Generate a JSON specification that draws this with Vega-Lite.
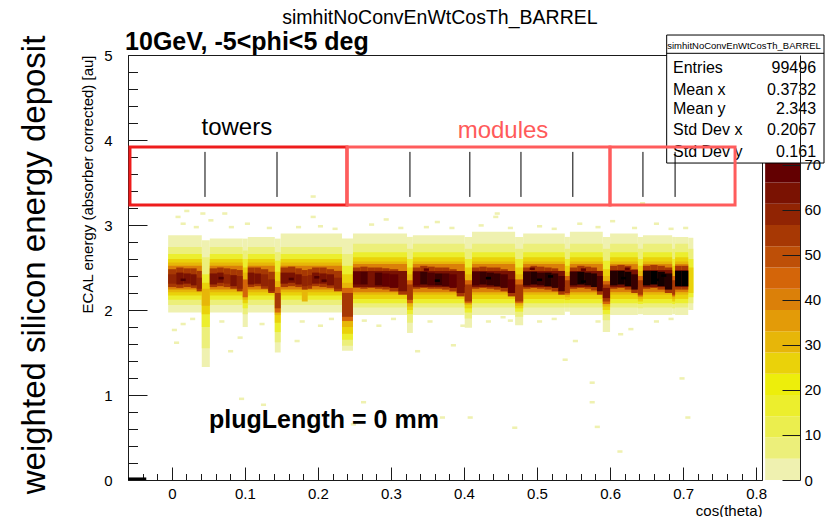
{
"$schema":"https://vega.github.io/schema/vega-lite/v6.json",
"width":634,"height":425,
"autosize":{"type":"none"},
"padding":{"left":128,"top":55,"right":64,"bottom":37},
"background":"#ffffff",
"config":{"font":"Liberation Sans","view":{"stroke":"#1a1a1a","strokeWidth":1},
 "axis":{"grid":false,"labelFont":"Liberation Sans","titleFont":"Liberation Sans","labelColor":"#000","titleColor":"#000","domainColor":"#1a1a1a","tickColor":"#1a1a1a","labelFontSize":15,"titleFontSize":15,"titleFontWeight":"normal"}},
"datasets":{
"cells":[
{"x":-0.005,"x2":0.041,"y":1.97,"y2":2.88,"v":3},{"x":-0.005,"x2":0.041,"y":2.06,"y2":2.74,"v":9},{"x":-0.005,"x2":0.041,"y":2.12,"y2":2.66,"v":17},{"x":-0.005,"x2":0.041,"y":2.17,"y2":2.6,"v":25},{"x":-0.005,"x2":0.041,"y":2.21,"y2":2.56,"v":33},{"x":-0.005,"x2":0.041,"y":2.24,"y2":2.52,"v":40},
{"x":0.052,"x2":0.097,"y":1.97,"y2":2.84,"v":3},{"x":0.052,"x2":0.097,"y":2.06,"y2":2.74,"v":9},{"x":0.052,"x2":0.097,"y":2.12,"y2":2.66,"v":17},{"x":0.052,"x2":0.097,"y":2.17,"y2":2.6,"v":25},{"x":0.052,"x2":0.097,"y":2.21,"y2":2.56,"v":33},{"x":0.052,"x2":0.097,"y":2.24,"y2":2.52,"v":40},
{"x":0.104,"x2":0.141,"y":1.97,"y2":2.86,"v":3},{"x":0.104,"x2":0.141,"y":2.06,"y2":2.74,"v":9},{"x":0.104,"x2":0.141,"y":2.12,"y2":2.66,"v":17},{"x":0.104,"x2":0.141,"y":2.17,"y2":2.6,"v":25},{"x":0.104,"x2":0.141,"y":2.21,"y2":2.56,"v":33},{"x":0.104,"x2":0.141,"y":2.24,"y2":2.52,"v":40},
{"x":0.149,"x2":0.233,"y":1.97,"y2":2.9,"v":3},{"x":0.149,"x2":0.233,"y":2.06,"y2":2.74,"v":9},{"x":0.149,"x2":0.233,"y":2.12,"y2":2.66,"v":17},{"x":0.149,"x2":0.233,"y":2.17,"y2":2.6,"v":25},{"x":0.149,"x2":0.233,"y":2.21,"y2":2.56,"v":33},{"x":0.149,"x2":0.233,"y":2.24,"y2":2.52,"v":40},
{"x":0.248,"x2":0.322,"y":1.94,"y2":2.9,"v":3},{"x":0.248,"x2":0.322,"y":2.03,"y2":2.78,"v":9},{"x":0.248,"x2":0.322,"y":2.08,"y2":2.68,"v":17},{"x":0.248,"x2":0.322,"y":2.13,"y2":2.62,"v":25},{"x":0.248,"x2":0.322,"y":2.18,"y2":2.57,"v":33},{"x":0.248,"x2":0.322,"y":2.21,"y2":2.54,"v":40},{"x":0.248,"x2":0.322,"y":2.27,"y2":2.46,"v":64},
{"x":0.33,"x2":0.401,"y":1.94,"y2":2.88,"v":3},{"x":0.33,"x2":0.401,"y":2.03,"y2":2.78,"v":9},{"x":0.33,"x2":0.401,"y":2.08,"y2":2.68,"v":17},{"x":0.33,"x2":0.401,"y":2.13,"y2":2.62,"v":25},{"x":0.33,"x2":0.401,"y":2.18,"y2":2.57,"v":33},{"x":0.33,"x2":0.401,"y":2.21,"y2":2.54,"v":40},{"x":0.33,"x2":0.401,"y":2.27,"y2":2.46,"v":64},
{"x":0.411,"x2":0.47,"y":1.94,"y2":2.92,"v":3},{"x":0.411,"x2":0.47,"y":2.03,"y2":2.78,"v":9},{"x":0.411,"x2":0.47,"y":2.08,"y2":2.68,"v":17},{"x":0.411,"x2":0.47,"y":2.13,"y2":2.62,"v":25},{"x":0.411,"x2":0.47,"y":2.18,"y2":2.57,"v":33},{"x":0.411,"x2":0.47,"y":2.21,"y2":2.54,"v":40},{"x":0.411,"x2":0.47,"y":2.27,"y2":2.46,"v":64},
{"x":0.481,"x2":0.538,"y":1.94,"y2":2.9,"v":3},{"x":0.481,"x2":0.538,"y":2.03,"y2":2.78,"v":9},{"x":0.481,"x2":0.538,"y":2.08,"y2":2.68,"v":17},{"x":0.481,"x2":0.538,"y":2.13,"y2":2.62,"v":25},{"x":0.481,"x2":0.538,"y":2.18,"y2":2.57,"v":33},{"x":0.481,"x2":0.538,"y":2.21,"y2":2.54,"v":40},{"x":0.481,"x2":0.538,"y":2.27,"y2":2.46,"v":64},
{"x":0.545,"x2":0.59,"y":1.94,"y2":2.92,"v":3},{"x":0.545,"x2":0.59,"y":2.03,"y2":2.78,"v":9},{"x":0.545,"x2":0.59,"y":2.08,"y2":2.68,"v":17},{"x":0.545,"x2":0.59,"y":2.13,"y2":2.62,"v":25},{"x":0.545,"x2":0.59,"y":2.18,"y2":2.57,"v":33},{"x":0.545,"x2":0.59,"y":2.21,"y2":2.54,"v":40},{"x":0.545,"x2":0.59,"y":2.27,"y2":2.46,"v":64},
{"x":0.6,"x2":0.638,"y":1.94,"y2":2.9,"v":3},{"x":0.6,"x2":0.638,"y":2.03,"y2":2.78,"v":9},{"x":0.6,"x2":0.638,"y":2.08,"y2":2.68,"v":17},{"x":0.6,"x2":0.638,"y":2.13,"y2":2.62,"v":25},{"x":0.6,"x2":0.638,"y":2.18,"y2":2.57,"v":33},{"x":0.6,"x2":0.638,"y":2.21,"y2":2.54,"v":40},{"x":0.6,"x2":0.638,"y":2.27,"y2":2.47,"v":64},
{"x":0.645,"x2":0.685,"y":1.94,"y2":2.88,"v":3},{"x":0.645,"x2":0.685,"y":2.03,"y2":2.78,"v":9},{"x":0.645,"x2":0.685,"y":2.08,"y2":2.68,"v":17},{"x":0.645,"x2":0.685,"y":2.13,"y2":2.62,"v":25},{"x":0.645,"x2":0.685,"y":2.18,"y2":2.57,"v":33},{"x":0.645,"x2":0.685,"y":2.21,"y2":2.54,"v":40},{"x":0.645,"x2":0.685,"y":2.27,"y2":2.47,"v":64},
{"x":0.689,"x2":0.707,"y":1.94,"y2":2.86,"v":3},{"x":0.689,"x2":0.707,"y":2.03,"y2":2.78,"v":9},{"x":0.689,"x2":0.707,"y":2.08,"y2":2.68,"v":17},{"x":0.689,"x2":0.707,"y":2.13,"y2":2.62,"v":25},{"x":0.689,"x2":0.707,"y":2.18,"y2":2.57,"v":33},{"x":0.689,"x2":0.707,"y":2.21,"y2":2.54,"v":40},{"x":0.689,"x2":0.707,"y":2.27,"y2":2.47,"v":64},
{"x":0.707,"x2":0.714,"y":2.0,"y2":2.85,"v":3},{"x":0.707,"x2":0.714,"y":2.08,"y2":2.72,"v":9},{"x":0.707,"x2":0.714,"y":2.15,"y2":2.6,"v":17},{"x":0.707,"x2":0.714,"y":2.2,"y2":2.5,"v":25},
{"x":0.041,"x2":0.052,"y":1.33,"y2":2.82,"v":3},{"x":0.041,"x2":0.052,"y":1.55,"y2":2.62,"v":9},{"x":0.041,"x2":0.052,"y":1.8,"y2":2.42,"v":17},{"x":0.041,"x2":0.052,"y":1.95,"y2":2.32,"v":25},{"x":0.041,"x2":0.052,"y":2.05,"y2":2.25,"v":33},
{"x":0.097,"x2":0.104,"y":1.8,"y2":2.84,"v":3},{"x":0.097,"x2":0.104,"y":1.95,"y2":2.7,"v":9},{"x":0.097,"x2":0.104,"y":2.02,"y2":2.6,"v":17},{"x":0.097,"x2":0.104,"y":2.08,"y2":2.5,"v":25},{"x":0.097,"x2":0.104,"y":2.12,"y2":2.44,"v":33},{"x":0.097,"x2":0.104,"y":2.15,"y2":2.36,"v":45},
{"x":0.141,"x2":0.149,"y":1.5,"y2":2.84,"v":3},{"x":0.141,"x2":0.149,"y":1.62,"y2":2.68,"v":9},{"x":0.141,"x2":0.149,"y":1.74,"y2":2.58,"v":17},{"x":0.141,"x2":0.149,"y":1.85,"y2":2.45,"v":25},{"x":0.141,"x2":0.149,"y":1.94,"y2":2.34,"v":33},{"x":0.141,"x2":0.149,"y":1.97,"y2":2.27,"v":45},{"x":0.141,"x2":0.149,"y":2.02,"y2":2.2,"v":52},
{"x":0.233,"x2":0.248,"y":1.52,"y2":2.84,"v":3},{"x":0.233,"x2":0.248,"y":1.58,"y2":2.66,"v":9},{"x":0.233,"x2":0.248,"y":1.65,"y2":2.52,"v":17},{"x":0.233,"x2":0.248,"y":1.72,"y2":2.42,"v":25},{"x":0.233,"x2":0.248,"y":1.8,"y2":2.32,"v":33},{"x":0.233,"x2":0.248,"y":1.87,"y2":2.26,"v":45},{"x":0.233,"x2":0.248,"y":1.92,"y2":2.2,"v":52},
{"x":0.322,"x2":0.33,"y":1.73,"y2":2.86,"v":3},{"x":0.322,"x2":0.33,"y":1.85,"y2":2.72,"v":9},{"x":0.322,"x2":0.33,"y":1.95,"y2":2.6,"v":17},{"x":0.322,"x2":0.33,"y":2.0,"y2":2.5,"v":25},{"x":0.322,"x2":0.33,"y":2.04,"y2":2.42,"v":33},{"x":0.322,"x2":0.33,"y":2.08,"y2":2.35,"v":45},{"x":0.322,"x2":0.33,"y":2.12,"y2":2.3,"v":52},
{"x":0.401,"x2":0.411,"y":1.79,"y2":2.86,"v":3},{"x":0.401,"x2":0.411,"y":1.9,"y2":2.72,"v":9},{"x":0.401,"x2":0.411,"y":1.97,"y2":2.6,"v":17},{"x":0.401,"x2":0.411,"y":2.02,"y2":2.5,"v":25},{"x":0.401,"x2":0.411,"y":2.06,"y2":2.42,"v":33},{"x":0.401,"x2":0.411,"y":2.08,"y2":2.35,"v":45},{"x":0.401,"x2":0.411,"y":2.1,"y2":2.3,"v":52},
{"x":0.47,"x2":0.481,"y":1.82,"y2":2.86,"v":3},{"x":0.47,"x2":0.481,"y":1.92,"y2":2.72,"v":9},{"x":0.47,"x2":0.481,"y":1.98,"y2":2.6,"v":17},{"x":0.47,"x2":0.481,"y":2.02,"y2":2.5,"v":25},{"x":0.47,"x2":0.481,"y":2.05,"y2":2.42,"v":33},{"x":0.47,"x2":0.481,"y":2.08,"y2":2.36,"v":45},{"x":0.47,"x2":0.481,"y":2.1,"y2":2.3,"v":52},
{"x":0.538,"x2":0.545,"y":1.98,"y2":2.86,"v":3},{"x":0.538,"x2":0.545,"y":2.03,"y2":2.72,"v":9},{"x":0.538,"x2":0.545,"y":2.08,"y2":2.6,"v":17},{"x":0.538,"x2":0.545,"y":2.12,"y2":2.52,"v":25},{"x":0.538,"x2":0.545,"y":2.15,"y2":2.45,"v":33},{"x":0.538,"x2":0.545,"y":2.18,"y2":2.4,"v":45},{"x":0.538,"x2":0.545,"y":2.2,"y2":2.35,"v":52},
{"x":0.59,"x2":0.6,"y":1.74,"y2":2.86,"v":3},{"x":0.59,"x2":0.6,"y":1.88,"y2":2.72,"v":9},{"x":0.59,"x2":0.6,"y":1.95,"y2":2.58,"v":17},{"x":0.59,"x2":0.6,"y":2.0,"y2":2.48,"v":25},{"x":0.59,"x2":0.6,"y":2.04,"y2":2.4,"v":33},{"x":0.59,"x2":0.6,"y":2.07,"y2":2.34,"v":45},{"x":0.59,"x2":0.6,"y":2.1,"y2":2.3,"v":52},{"x":0.59,"x2":0.6,"y":2.14,"y2":2.26,"v":64},
{"x":0.638,"x2":0.645,"y":1.95,"y2":2.86,"v":3},{"x":0.638,"x2":0.645,"y":2.02,"y2":2.72,"v":9},{"x":0.638,"x2":0.645,"y":2.07,"y2":2.6,"v":17},{"x":0.638,"x2":0.645,"y":2.1,"y2":2.52,"v":25},{"x":0.638,"x2":0.645,"y":2.13,"y2":2.46,"v":33},{"x":0.638,"x2":0.645,"y":2.16,"y2":2.4,"v":45},{"x":0.638,"x2":0.645,"y":2.18,"y2":2.35,"v":52},
{"x":0.685,"x2":0.689,"y":1.95,"y2":2.86,"v":3},{"x":0.685,"x2":0.689,"y":2.02,"y2":2.72,"v":9},{"x":0.685,"x2":0.689,"y":2.07,"y2":2.6,"v":17},{"x":0.685,"x2":0.689,"y":2.1,"y2":2.52,"v":25},{"x":0.685,"x2":0.689,"y":2.13,"y2":2.46,"v":33},{"x":0.685,"x2":0.689,"y":2.16,"y2":2.4,"v":45},{"x":0.685,"x2":0.689,"y":2.18,"y2":2.35,"v":52},
{"x":-0.005,"x2":0.006,"y":2.27,"y2":2.48,"v":52},{"x":-0.005,"x2":0.006,"y":2.31,"y2":2.42,"v":58},
{"x":0.006,"x2":0.016,"y":2.26,"y2":2.5,"v":52},{"x":0.006,"x2":0.016,"y":2.3,"y2":2.44,"v":66},
{"x":0.016,"x2":0.026,"y":2.27,"y2":2.49,"v":52},{"x":0.016,"x2":0.026,"y":2.31,"y2":2.43,"v":64},
{"x":0.026,"x2":0.034,"y":2.26,"y2":2.49,"v":52},{"x":0.026,"x2":0.034,"y":2.29,"y2":2.42,"v":62},
{"x":0.034,"x2":0.041,"y":2.22,"y2":2.46,"v":52},{"x":0.034,"x2":0.041,"y":2.25,"y2":2.38,"v":58},
{"x":0.052,"x2":0.062,"y":2.27,"y2":2.49,"v":52},{"x":0.052,"x2":0.062,"y":2.3,"y2":2.43,"v":62},
{"x":0.062,"x2":0.071,"y":2.28,"y2":2.5,"v":52},{"x":0.062,"x2":0.071,"y":2.32,"y2":2.44,"v":66},
{"x":0.071,"x2":0.08,"y":2.27,"y2":2.49,"v":52},{"x":0.071,"x2":0.08,"y":2.31,"y2":2.42,"v":60},
{"x":0.08,"x2":0.089,"y":2.25,"y2":2.48,"v":52},{"x":0.08,"x2":0.089,"y":2.28,"y2":2.41,"v":62},
{"x":0.089,"x2":0.097,"y":2.22,"y2":2.47,"v":52},{"x":0.089,"x2":0.097,"y":2.25,"y2":2.4,"v":58},
{"x":0.104,"x2":0.113,"y":2.27,"y2":2.5,"v":52},{"x":0.104,"x2":0.113,"y":2.3,"y2":2.44,"v":64},
{"x":0.113,"x2":0.122,"y":2.28,"y2":2.5,"v":52},{"x":0.113,"x2":0.122,"y":2.31,"y2":2.43,"v":62},
{"x":0.122,"x2":0.132,"y":2.25,"y2":2.48,"v":52},{"x":0.122,"x2":0.132,"y":2.28,"y2":2.42,"v":60},
{"x":0.132,"x2":0.141,"y":2.2,"y2":2.45,"v":52},{"x":0.132,"x2":0.141,"y":2.22,"y2":2.36,"v":58},
{"x":0.149,"x2":0.159,"y":2.27,"y2":2.5,"v":52},{"x":0.149,"x2":0.159,"y":2.31,"y2":2.44,"v":64},
{"x":0.159,"x2":0.169,"y":2.28,"y2":2.51,"v":52},{"x":0.159,"x2":0.169,"y":2.32,"y2":2.44,"v":66},
{"x":0.169,"x2":0.178,"y":2.27,"y2":2.49,"v":52},{"x":0.169,"x2":0.178,"y":2.3,"y2":2.42,"v":62},
{"x":0.178,"x2":0.186,"y":2.1,"y2":2.45,"v":33},{"x":0.178,"x2":0.186,"y":2.24,"y2":2.47,"v":52},{"x":0.178,"x2":0.186,"y":2.28,"y2":2.4,"v":58},
{"x":0.186,"x2":0.192,"y":2.25,"y2":2.48,"v":52},{"x":0.186,"x2":0.192,"y":2.29,"y2":2.41,"v":60},
{"x":0.192,"x2":0.202,"y":2.28,"y2":2.5,"v":52},{"x":0.192,"x2":0.202,"y":2.31,"y2":2.44,"v":66},
{"x":0.202,"x2":0.212,"y":2.27,"y2":2.5,"v":52},{"x":0.202,"x2":0.212,"y":2.31,"y2":2.43,"v":64},
{"x":0.212,"x2":0.222,"y":2.26,"y2":2.48,"v":52},{"x":0.212,"x2":0.222,"y":2.29,"y2":2.42,"v":62},
{"x":0.222,"x2":0.233,"y":2.22,"y2":2.46,"v":52},{"x":0.222,"x2":0.233,"y":2.25,"y2":2.38,"v":58},
{"x":0.248,"x2":0.258,"y":2.26,"y2":2.5,"v":52},{"x":0.248,"x2":0.258,"y":2.3,"y2":2.45,"v":68},
{"x":0.258,"x2":0.268,"y":2.25,"y2":2.51,"v":52},{"x":0.258,"x2":0.268,"y":2.3,"y2":2.45,"v":72},
{"x":0.268,"x2":0.278,"y":2.26,"y2":2.5,"v":52},{"x":0.268,"x2":0.278,"y":2.3,"y2":2.44,"v":66},
{"x":0.278,"x2":0.288,"y":2.25,"y2":2.5,"v":52},{"x":0.278,"x2":0.288,"y":2.29,"y2":2.44,"v":74},
{"x":0.288,"x2":0.298,"y":2.24,"y2":2.49,"v":52},{"x":0.288,"x2":0.298,"y":2.28,"y2":2.43,"v":70},
{"x":0.298,"x2":0.31,"y":2.22,"y2":2.48,"v":52},{"x":0.298,"x2":0.31,"y":2.26,"y2":2.42,"v":68},
{"x":0.31,"x2":0.322,"y":2.18,"y2":2.45,"v":52},{"x":0.31,"x2":0.322,"y":2.22,"y2":2.38,"v":64},
{"x":0.33,"x2":0.34,"y":2.25,"y2":2.5,"v":52},{"x":0.33,"x2":0.34,"y":2.29,"y2":2.45,"v":70},
{"x":0.34,"x2":0.35,"y":2.26,"y2":2.52,"v":52},{"x":0.34,"x2":0.35,"y":2.3,"y2":2.45,"v":76},
{"x":0.35,"x2":0.36,"y":2.25,"y2":2.51,"v":52},{"x":0.35,"x2":0.36,"y":2.29,"y2":2.44,"v":72},
{"x":0.36,"x2":0.37,"y":2.25,"y2":2.5,"v":52},{"x":0.36,"x2":0.37,"y":2.29,"y2":2.43,"v":78},
{"x":0.37,"x2":0.38,"y":2.24,"y2":2.5,"v":52},{"x":0.37,"x2":0.38,"y":2.28,"y2":2.43,"v":74},
{"x":0.38,"x2":0.39,"y":2.22,"y2":2.48,"v":52},{"x":0.38,"x2":0.39,"y":2.26,"y2":2.42,"v":70},
{"x":0.39,"x2":0.401,"y":2.16,"y2":2.45,"v":52},{"x":0.39,"x2":0.401,"y":2.2,"y2":2.37,"v":66},
{"x":0.411,"x2":0.421,"y":2.25,"y2":2.5,"v":52},{"x":0.411,"x2":0.421,"y":2.29,"y2":2.45,"v":74},
{"x":0.421,"x2":0.431,"y":2.26,"y2":2.51,"v":52},{"x":0.421,"x2":0.431,"y":2.3,"y2":2.45,"v":78},
{"x":0.431,"x2":0.441,"y":2.25,"y2":2.5,"v":52},{"x":0.431,"x2":0.441,"y":2.29,"y2":2.44,"v":80},
{"x":0.441,"x2":0.45,"y":2.24,"y2":2.5,"v":52},{"x":0.441,"x2":0.45,"y":2.28,"y2":2.43,"v":76},
{"x":0.45,"x2":0.46,"y":2.22,"y2":2.48,"v":52},{"x":0.45,"x2":0.46,"y":2.26,"y2":2.42,"v":72},
{"x":0.46,"x2":0.47,"y":2.16,"y2":2.44,"v":52},{"x":0.46,"x2":0.47,"y":2.2,"y2":2.36,"v":68},
{"x":0.481,"x2":0.491,"y":2.25,"y2":2.5,"v":52},{"x":0.481,"x2":0.491,"y":2.29,"y2":2.45,"v":76},
{"x":0.491,"x2":0.5,"y":2.26,"y2":2.52,"v":52},{"x":0.491,"x2":0.5,"y":2.3,"y2":2.45,"v":82},
{"x":0.5,"x2":0.51,"y":2.25,"y2":2.51,"v":52},{"x":0.5,"x2":0.51,"y":2.29,"y2":2.44,"v":78},
{"x":0.51,"x2":0.52,"y":2.24,"y2":2.5,"v":52},{"x":0.51,"x2":0.52,"y":2.28,"y2":2.44,"v":84},
{"x":0.52,"x2":0.529,"y":2.22,"y2":2.49,"v":52},{"x":0.52,"x2":0.529,"y":2.26,"y2":2.43,"v":78},
{"x":0.529,"x2":0.538,"y":2.18,"y2":2.46,"v":52},{"x":0.529,"x2":0.538,"y":2.22,"y2":2.4,"v":72},
{"x":0.545,"x2":0.555,"y":2.25,"y2":2.5,"v":52},{"x":0.545,"x2":0.555,"y":2.29,"y2":2.45,"v":80},
{"x":0.555,"x2":0.565,"y":2.26,"y2":2.52,"v":52},{"x":0.555,"x2":0.565,"y":2.3,"y2":2.45,"v":86},
{"x":0.565,"x2":0.574,"y":2.25,"y2":2.51,"v":52},{"x":0.565,"x2":0.574,"y":2.29,"y2":2.44,"v":82},
{"x":0.574,"x2":0.582,"y":2.23,"y2":2.5,"v":52},{"x":0.574,"x2":0.582,"y":2.27,"y2":2.43,"v":84},
{"x":0.582,"x2":0.59,"y":2.18,"y2":2.46,"v":52},{"x":0.582,"x2":0.59,"y":2.22,"y2":2.4,"v":74},
{"x":0.6,"x2":0.61,"y":2.25,"y2":2.52,"v":52},{"x":0.6,"x2":0.61,"y":2.29,"y2":2.46,"v":84},
{"x":0.61,"x2":0.62,"y":2.26,"y2":2.53,"v":52},{"x":0.61,"x2":0.62,"y":2.3,"y2":2.46,"v":88},
{"x":0.62,"x2":0.629,"y":2.24,"y2":2.52,"v":52},{"x":0.62,"x2":0.629,"y":2.28,"y2":2.45,"v":86},
{"x":0.629,"x2":0.638,"y":2.2,"y2":2.48,"v":52},{"x":0.629,"x2":0.638,"y":2.24,"y2":2.42,"v":80},
{"x":0.645,"x2":0.655,"y":2.25,"y2":2.52,"v":52},{"x":0.645,"x2":0.655,"y":2.29,"y2":2.46,"v":86},
{"x":0.655,"x2":0.665,"y":2.26,"y2":2.53,"v":52},{"x":0.655,"x2":0.665,"y":2.3,"y2":2.46,"v":90},
{"x":0.665,"x2":0.675,"y":2.24,"y2":2.52,"v":52},{"x":0.665,"x2":0.675,"y":2.28,"y2":2.45,"v":88},
{"x":0.675,"x2":0.685,"y":2.2,"y2":2.5,"v":52},{"x":0.675,"x2":0.685,"y":2.24,"y2":2.43,"v":84},
{"x":0.689,"x2":0.698,"y":2.24,"y2":2.52,"v":52},{"x":0.689,"x2":0.698,"y":2.28,"y2":2.46,"v":90},
{"x":0.698,"x2":0.707,"y":2.24,"y2":2.52,"v":52},{"x":0.698,"x2":0.707,"y":2.28,"y2":2.46,"v":94},
{"x":0.012,"x2":0.019,"y":2.34,"y2":2.37,"v":75},{"x":0.064,"x2":0.071,"y":2.36,"y2":2.39,"v":75},{"x":0.16,"x2":0.167,"y":2.35,"y2":2.38,"v":75},{"x":0.195,"x2":0.202,"y":2.37,"y2":2.4,"v":75},{"x":0.205,"x2":0.212,"y":2.33,"y2":2.36,"v":75},
{"x":0.36,"x2":0.367,"y":2.33,"y2":2.36,"v":94},{"x":0.43,"x2":0.437,"y":2.36,"y2":2.39,"v":94},{"x":0.5,"x2":0.507,"y":2.34,"y2":2.37,"v":94},{"x":0.515,"x2":0.522,"y":2.38,"y2":2.41,"v":94},{"x":0.56,"x2":0.567,"y":2.32,"y2":2.35,"v":94},{"x":0.615,"x2":0.622,"y":2.36,"y2":2.39,"v":94},{"x":0.66,"x2":0.667,"y":2.34,"y2":2.37,"v":94},{"x":0.67,"x2":0.677,"y":2.39,"y2":2.42,"v":94},
{"x":0.345,"x2":0.352,"y":2.46,"y2":2.49,"v":70},{"x":0.49,"x2":0.497,"y":2.47,"y2":2.5,"v":70},{"x":0.56,"x2":0.567,"y":2.46,"y2":2.49,"v":70},{"x":0.62,"x2":0.627,"y":2.47,"y2":2.5,"v":70},
{"x":-0.06,"x2":-0.035,"y":0,"y2":0.03,"v":94},
{"x":0.005,"x2":0.012,"y":3.08,"y2":3.11,"v":2},{"x":0.012,"x2":0.019,"y":3.0,"y2":3.03,"v":2},{"x":0.03,"x2":0.037,"y":2.96,"y2":2.99,"v":2},{"x":0.05,"x2":0.057,"y":3.04,"y2":3.07,"v":2},{"x":0.078,"x2":0.085,"y":2.96,"y2":2.99,"v":2},{"x":0.1,"x2":0.107,"y":3.0,"y2":3.03,"v":2},{"x":0.13,"x2":0.137,"y":2.95,"y2":2.98,"v":2},{"x":0.17,"x2":0.177,"y":2.96,"y2":2.99,"v":2},{"x":0.19,"x2":0.197,"y":3.08,"y2":3.11,"v":2},{"x":0.2,"x2":0.207,"y":2.97,"y2":3.0,"v":2},{"x":0.22,"x2":0.227,"y":2.94,"y2":2.97,"v":2},{"x":0.27,"x2":0.277,"y":2.99,"y2":3.02,"v":2},{"x":0.29,"x2":0.297,"y":3.05,"y2":3.08,"v":2},{"x":0.31,"x2":0.317,"y":2.95,"y2":2.98,"v":2},{"x":0.345,"x2":0.352,"y":2.96,"y2":2.99,"v":2},{"x":0.36,"x2":0.367,"y":3.02,"y2":3.05,"v":2},{"x":0.38,"x2":0.387,"y":2.95,"y2":2.98,"v":2},{"x":0.42,"x2":0.427,"y":2.98,"y2":3.01,"v":2},{"x":0.44,"x2":0.447,"y":3.08,"y2":3.11,"v":2},{"x":0.46,"x2":0.467,"y":2.95,"y2":2.98,"v":2},{"x":0.5,"x2":0.507,"y":2.97,"y2":3.0,"v":2},{"x":0.52,"x2":0.527,"y":2.94,"y2":2.97,"v":2},{"x":0.555,"x2":0.562,"y":3.0,"y2":3.03,"v":2},{"x":0.58,"x2":0.587,"y":2.96,"y2":2.99,"v":2},{"x":0.6,"x2":0.607,"y":3.03,"y2":3.06,"v":2},{"x":0.63,"x2":0.637,"y":2.95,"y2":2.98,"v":2},{"x":0.66,"x2":0.667,"y":3.0,"y2":3.03,"v":2},{"x":0.68,"x2":0.687,"y":2.94,"y2":2.97,"v":2},{"x":0.7,"x2":0.707,"y":2.95,"y2":2.98,"v":2},
{"x":0.19,"x2":0.197,"y":3.32,"y2":3.35,"v":2},{"x":0.442,"x2":0.449,"y":3.12,"y2":3.15,"v":2},{"x":0.641,"x2":0.648,"y":3.24,"y2":3.27,"v":2},{"x":0.017,"x2":0.024,"y":3.15,"y2":3.18,"v":2},{"x":0.039,"x2":0.046,"y":3.12,"y2":3.15,"v":2},{"x":0.069,"x2":0.076,"y":3.12,"y2":3.15,"v":2},
{"x":0.0,"x2":0.007,"y":1.75,"y2":1.78,"v":2},{"x":0.003,"x2":0.01,"y":1.6,"y2":1.63,"v":2},{"x":0.012,"x2":0.019,"y":1.82,"y2":1.85,"v":2},{"x":0.025,"x2":0.032,"y":1.88,"y2":1.91,"v":2},{"x":0.065,"x2":0.072,"y":1.85,"y2":1.88,"v":2},{"x":0.077,"x2":0.084,"y":1.5,"y2":1.53,"v":2},{"x":0.09,"x2":0.097,"y":1.66,"y2":1.69,"v":2},{"x":0.092,"x2":0.099,"y":0.94,"y2":0.97,"v":2},{"x":0.12,"x2":0.127,"y":1.82,"y2":1.85,"v":2},{"x":0.122,"x2":0.129,"y":0.87,"y2":0.9,"v":2},{"x":0.168,"x2":0.175,"y":1.62,"y2":1.65,"v":2},{"x":0.175,"x2":0.182,"y":1.85,"y2":1.88,"v":2},{"x":0.2,"x2":0.207,"y":1.8,"y2":1.83,"v":2},{"x":0.215,"x2":0.222,"y":1.88,"y2":1.91,"v":2},{"x":0.26,"x2":0.267,"y":1.86,"y2":1.89,"v":2},{"x":0.259,"x2":0.266,"y":0.9,"y2":0.93,"v":2},{"x":0.245,"x2":0.252,"y":0.64,"y2":0.67,"v":2},{"x":0.28,"x2":0.287,"y":1.8,"y2":1.83,"v":2},{"x":0.3,"x2":0.307,"y":1.88,"y2":1.91,"v":2},{"x":0.333,"x2":0.34,"y":1.5,"y2":1.53,"v":2},{"x":0.35,"x2":0.357,"y":1.85,"y2":1.88,"v":2},{"x":0.367,"x2":0.374,"y":0.72,"y2":0.75,"v":2},{"x":0.382,"x2":0.389,"y":1.57,"y2":1.6,"v":2},{"x":0.395,"x2":0.402,"y":1.8,"y2":1.83,"v":2},{"x":0.405,"x2":0.412,"y":0.72,"y2":0.75,"v":2},{"x":0.43,"x2":0.437,"y":1.85,"y2":1.88,"v":2},{"x":0.45,"x2":0.457,"y":1.9,"y2":1.93,"v":2},{"x":0.466,"x2":0.473,"y":0.6,"y2":0.63,"v":2},{"x":0.5,"x2":0.507,"y":1.85,"y2":1.88,"v":2},{"x":0.52,"x2":0.527,"y":1.88,"y2":1.91,"v":2},{"x":0.535,"x2":0.542,"y":1.4,"y2":1.43,"v":2},{"x":0.549,"x2":0.556,"y":1.62,"y2":1.65,"v":2},{"x":0.572,"x2":0.579,"y":1.13,"y2":1.16,"v":2},{"x":0.572,"x2":0.579,"y":0.9,"y2":0.93,"v":2},{"x":0.579,"x2":0.586,"y":0.61,"y2":0.64,"v":2},{"x":0.61,"x2":0.617,"y":0.32,"y2":0.35,"v":2},{"x":0.611,"x2":0.618,"y":1.7,"y2":1.73,"v":2},{"x":0.625,"x2":0.632,"y":1.76,"y2":1.79,"v":2},{"x":0.66,"x2":0.667,"y":1.85,"y2":1.88,"v":2},{"x":0.695,"x2":0.702,"y":1.18,"y2":1.21,"v":2},{"x":0.703,"x2":0.71,"y":0.72,"y2":0.75,"v":2},{"x":0.68,"x2":0.687,"y":1.88,"y2":1.91,"v":2},{"x":0.46,"x2":0.467,"y":1.86,"y2":1.89,"v":2},{"x":0.58,"x2":0.587,"y":1.85,"y2":1.88,"v":2}
],
"bar":[
{"lo":0,"hi":4.72,"v":2.36},{"lo":4.72,"hi":9.44,"v":7.08},{"lo":9.44,"hi":14.16,"v":11.8},{"lo":14.16,"hi":18.88,"v":16.52},{"lo":18.88,"hi":23.6,"v":21.24},{"lo":23.6,"hi":28.32,"v":25.96},{"lo":28.32,"hi":33.04,"v":30.68},{"lo":33.04,"hi":37.76,"v":35.4},{"lo":37.76,"hi":42.48,"v":40.12},{"lo":42.48,"hi":47.2,"v":44.84},{"lo":47.2,"hi":51.92,"v":49.56},{"lo":51.92,"hi":56.64,"v":54.28},{"lo":56.64,"hi":61.36,"v":59},{"lo":61.36,"hi":66.08,"v":63.72},{"lo":66.08,"hi":70.8,"v":68.44},{"lo":70.8,"hi":75.52,"v":73.16},{"lo":75.52,"hi":80.24,"v":77.88},{"lo":80.24,"hi":84.96,"v":82.6},{"lo":84.96,"hi":89.68,"v":87.32},{"lo":89.68,"hi":94.4,"v":92.04}
],
"stats":[
{"k":"Entries","n":"99496","y":4.847},{"k":"Mean x","n":"0.3732","y":4.588},{"k":"Mean y","n":"2.343","y":4.365},{"k":"Std Dev x","n":"0.2067","y":4.118},{"k":"Std Dev y","n":"0.161","y":3.859}
],
"modules":[{"x":0.2398,"x2":0.5999},{"x":0.5999,"x2":0.7711}],
"dividers":[{"x":0.0454},{"x":0.144},{"x":0.326},{"x":0.408},{"x":0.478},{"x":0.549},{"x":0.645},{"x":0.689}]
},
"resolve":{"scale":{"y":"independent"},"axis":{"x":"independent","y":"independent"}},
"layer":[
{"data":{"name":"cells"},"mark":{"type":"rect"},
 "encoding":{
  "x":{"field":"x","type":"quantitative","scale":{"domain":[-0.06,0.808],"nice":false,"zero":false},
   "axis":{"orient":"bottom","values":[0,0.1,0.2,0.3,0.4,0.5,0.6,0.7,0.8],"tickSize":-13,"labelExpr":"format(datum.value, '.1~f')",
    "labelPadding":19,"labelFlush":false,"labelOverlap":false,"title":"cos(theta)","titleAnchor":"end","titlePadding":2}},
  "x2":{"field":"x2"},
  "y":{"field":"y","type":"quantitative","scale":{"domain":[0,5],"nice":false,"zero":false},
   "axis":{"orient":"left","values":[0,1,2,3,4,5],"tickSize":-19,"format":"d",
    "labelPadding":35,"labelFlush":false,"labelOverlap":false,"title":"ECAL energy (absorber corrected) [au]","titleAnchor":"end","titlePadding":8}},
  "y2":{"field":"y2"},
  "color":{"field":"v","type":"quantitative","scale":{"type":"quantize","domain":[0,94.4],"nice":false,"zero":false,"range":["#eff1b0","#ecef7a","#ebee4e","#ecee2d","#edee0b","#ead20a","#e7b609","#e39b08","#db8009","#d46509","#be4f07","#a73804","#912403","#7a1202","#630001","#4e0001","#380001","#240001","#120000","#000000"]},"legend":null},
  "order":{"field":"v","type":"quantitative"}
 }},
{"data":{"name":"dividers"},"mark":{"type":"point","opacity":0},
 "encoding":{
  "x":{"field":"x","type":"quantitative","scale":{"domain":[-0.06,0.808],"nice":false,"zero":false},
   "axis":{"orient":"bottom","values":[-0.04,-0.02,0.02,0.04,0.06,0.08,0.12,0.14,0.16,0.18,0.22,0.24,0.26,0.28,0.32,0.34,0.36,0.38,0.42,0.44,0.46,0.48,0.52,0.54,0.56,0.58,0.62,0.64,0.66,0.68,0.72,0.74,0.76,0.78],"tickSize":-6.5,"labels":false,"domain":false,"title":null}},
  "y":{"datum":3.5,"type":"quantitative","scale":{"domain":[0,5],"nice":false,"zero":false},
   "axis":{"orient":"left","values":[0.2,0.4,0.6,0.8,1.2,1.4,1.6,1.8,2.2,2.4,2.6,2.8,3.2,3.4,3.6,3.8,4.2,4.4,4.6,4.8],"tickSize":-9.5,"labels":false,"domain":false,"title":null}}
 }},
{"data":{"name":"bar"},"mark":{"type":"rect"},
 "encoding":{
  "x":{"datum":0.8123,"type":"quantitative","scale":{"domain":[-0.06,0.808],"nice":false,"zero":false},"axis":null},
  "x2":{"datum":0.8603},
  "y":{"field":"lo","type":"quantitative","scale":{"domain":[0,94.4],"nice":false,"zero":false},
   "axis":{"orient":"right","offset":38,"values":[0,10,20,30,40,50,60,70],"tickSize":-18,"labelPadding":22,"title":null,"zindex":1,"labelFlush":false,"labelOverlap":false}},
  "y2":{"field":"hi"},
  "color":{"field":"v","type":"quantitative","scale":{"type":"quantize","domain":[0,94.4],"nice":false,"zero":false,"range":["#eff1b0","#ecef7a","#ebee4e","#ecee2d","#edee0b","#ead20a","#e7b609","#e39b08","#db8009","#d46509","#be4f07","#a73804","#912403","#7a1202","#630001","#4e0001","#380001","#240001","#120000","#000000"]},"legend":null}
 }},
{"layer":[
 {"data":{"values":[{}]},"mark":{"type":"rect","fill":"#ffffff","stroke":"#000000","strokeWidth":1},
  "encoding":{"x":{"datum":0.6775,"type":"quantitative","scale":{"domain":[-0.06,0.808],"nice":false,"zero":false},"axis":null},
   "x2":{"datum":0.8929},
   "y":{"datum":3.729,"type":"quantitative","scale":{"domain":[0,5],"nice":false,"zero":false},"axis":null},
   "y2":{"datum":5.235}}},
 {"data":{"values":[{}]},"mark":{"type":"rule","stroke":"#000000","strokeWidth":1},
  "encoding":{"x":{"datum":0.6775,"type":"quantitative","scale":{"domain":[-0.06,0.808],"nice":false,"zero":false},"axis":null},"x2":{"datum":0.8929},
   "y":{"datum":5.02,"type":"quantitative","scale":{"domain":[0,5],"nice":false,"zero":false},"axis":null}}},
 {"data":{"values":[{"t":"simhitNoConvEnWtCosTh_BARREL"}]},"mark":{"type":"text","fontSize":9.5,"align":"center","baseline":"middle","color":"#000"},
  "encoding":{"x":{"datum":0.7834,"type":"quantitative","scale":{"domain":[-0.06,0.808],"nice":false,"zero":false},"axis":null},
   "y":{"datum":5.11,"type":"quantitative","scale":{"domain":[0,5],"nice":false,"zero":false},"axis":null},"text":{"field":"t"}}},
 {"data":{"name":"stats"},"mark":{"type":"text","fontSize":16,"align":"left","baseline":"middle","color":"#000"},
  "encoding":{"x":{"datum":0.6862,"type":"quantitative","scale":{"domain":[-0.06,0.808],"nice":false,"zero":false},"axis":null},
   "y":{"field":"y","type":"quantitative","scale":{"domain":[0,5],"nice":false,"zero":false},"axis":null},"text":{"field":"k"}}},
 {"data":{"name":"stats"},"mark":{"type":"text","fontSize":16,"align":"right","baseline":"middle","color":"#000"},
  "encoding":{"x":{"datum":0.882,"type":"quantitative","scale":{"domain":[-0.06,0.808],"nice":false,"zero":false},"axis":null},
   "y":{"field":"y","type":"quantitative","scale":{"domain":[0,5],"nice":false,"zero":false},"axis":null},"text":{"field":"n"}}},
 {"data":{"name":"dividers"},"mark":{"type":"rule","stroke":"#000000","strokeWidth":1},
  "encoding":{"x":{"field":"x","type":"quantitative","scale":{"domain":[-0.06,0.808],"nice":false,"zero":false},"axis":null},
   "y":{"datum":3.33,"type":"quantitative","scale":{"domain":[0,5],"nice":false,"zero":false},"axis":null},"y2":{"datum":3.86}}},
 {"data":{"values":[{}]},"mark":{"type":"rect","fillOpacity":0,"stroke":"#ee1c1c","strokeWidth":3},
  "encoding":{"x":{"datum":-0.0573,"type":"quantitative","scale":{"domain":[-0.06,0.808],"nice":false,"zero":false},"axis":null},"x2":{"datum":0.2398},
   "y":{"datum":3.235,"type":"quantitative","scale":{"domain":[0,5],"nice":false,"zero":false},"axis":null},"y2":{"datum":3.918}}},
 {"data":{"name":"modules"},"mark":{"type":"rect","fillOpacity":0,"stroke":"#ff5c5c","strokeWidth":3},
  "encoding":{"x":{"field":"x","type":"quantitative","scale":{"domain":[-0.06,0.808],"nice":false,"zero":false},"axis":null},"x2":{"field":"x2"},
   "y":{"datum":3.235,"type":"quantitative","scale":{"domain":[0,5],"nice":false,"zero":false},"axis":null},"y2":{"datum":3.918}}},
 {"data":{"values":[{"t":"simhitNoConvEnWtCosTh_BARREL"}]},"mark":{"type":"text","fontSize":19.5,"align":"center","baseline":"alphabetic","color":"#000"},
  "encoding":{"x":{"datum":0.367,"type":"quantitative","scale":{"domain":[-0.06,0.808],"nice":false,"zero":false},"axis":null},
   "y":{"datum":5.365,"type":"quantitative","scale":{"domain":[0,5],"nice":false,"zero":false},"axis":null},"text":{"field":"t"}}},
 {"data":{"values":[{"t":"10GeV, -5<phi<5 deg"}]},"mark":{"type":"text","fontSize":25,"fontWeight":"bold","align":"left","baseline":"alphabetic","color":"#000"},
  "encoding":{"x":{"datum":-0.064,"type":"quantitative","scale":{"domain":[-0.06,0.808],"nice":false,"zero":false},"axis":null},
   "y":{"datum":5.059,"type":"quantitative","scale":{"domain":[0,5],"nice":false,"zero":false},"axis":null},"text":{"field":"t"}}},
 {"data":{"values":[{"t":"towers"}]},"mark":{"type":"text","fontSize":24,"align":"center","baseline":"alphabetic","color":"#000"},
  "encoding":{"x":{"datum":0.089,"type":"quantitative","scale":{"domain":[-0.06,0.808],"nice":false,"zero":false},"axis":null},
   "y":{"datum":4.06,"type":"quantitative","scale":{"domain":[0,5],"nice":false,"zero":false},"axis":null},"text":{"field":"t"}}},
 {"data":{"values":[{"t":"modules"}]},"mark":{"type":"text","fontSize":24,"align":"center","baseline":"alphabetic","color":"#ff5a5a"},
  "encoding":{"x":{"datum":0.4534,"type":"quantitative","scale":{"domain":[-0.06,0.808],"nice":false,"zero":false},"axis":null},
   "y":{"datum":4.02,"type":"quantitative","scale":{"domain":[0,5],"nice":false,"zero":false},"axis":null},"text":{"field":"t"}}},
 {"data":{"values":[{"t":"plugLength = 0 mm"}]},"mark":{"type":"text","fontSize":25,"fontWeight":"bold","align":"left","baseline":"alphabetic","color":"#000"},
  "encoding":{"x":{"datum":0.0509,"type":"quantitative","scale":{"domain":[-0.06,0.808],"nice":false,"zero":false},"axis":null},
   "y":{"datum":0.612,"type":"quantitative","scale":{"domain":[0,5],"nice":false,"zero":false},"axis":null},"text":{"field":"t"}}},
 {"data":{"values":[{"t":"weighted silicon energy deposit"}]},"mark":{"type":"text","fontSize":33,"angle":270,"align":"center","baseline":"middle","color":"#000"},
  "encoding":{"x":{"datum":-0.187,"type":"quantitative","scale":{"domain":[-0.06,0.808],"nice":false,"zero":false},"axis":null},
   "y":{"datum":2.53,"type":"quantitative","scale":{"domain":[0,5],"nice":false,"zero":false},"axis":null},"text":{"field":"t"}}}
]}
]
}
